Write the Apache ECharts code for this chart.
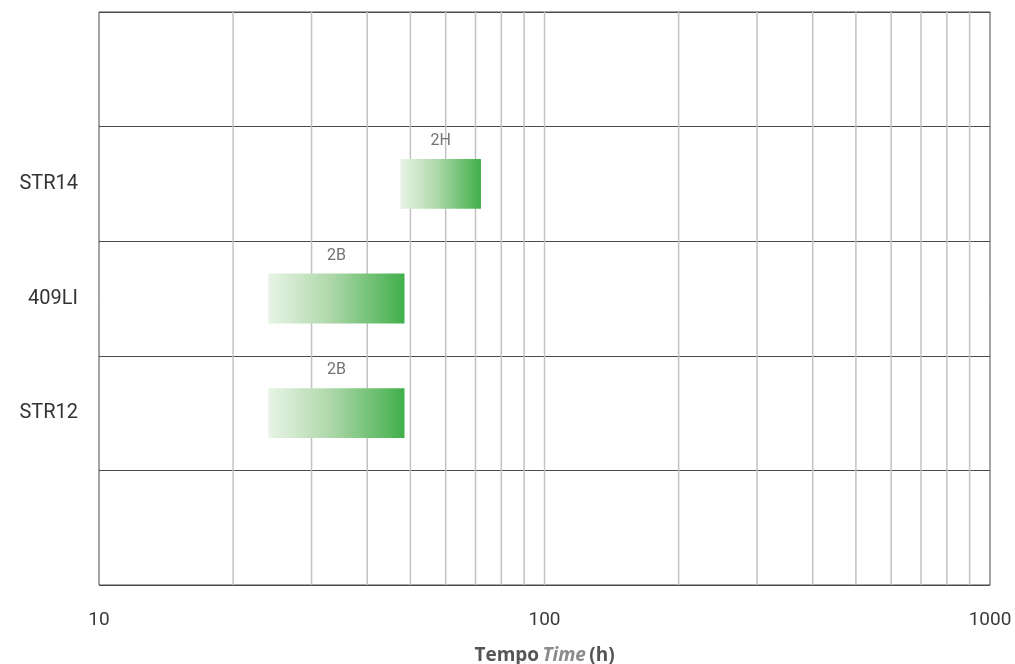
<!DOCTYPE html>
<html>
<head>
<meta charset="utf-8">
<script src="https://cdn.jsdelivr.net/npm/echarts@6/dist/echarts.min.js"></script>
<style>
html,body{margin:0;padding:0;background:#fff;}
#chart{width:1015px;height:664px;}
</style>
</head>
<body>
<div id="chart"></div>
<script>
// Data
const yCategories = ['', 'STR12', '409LI', 'STR14', ''];
const barCategories = ['STR12', '409LI', 'STR14'];
const barStart = [24, 24, 47.5];
const barEnd = [48.5, 48.5, 72];
const barLabels = ['2B', '2B', '2H'];
const minorGridValues = [20, 30, 40, 50, 60, 70, 80, 90, 100, 200, 300, 400, 500, 600, 700, 800, 900];
const xTickLabels = [10, 100, 1000];

const chart = echarts.init(document.getElementById('chart'));

const barData = barCategories.map((c, i) => [barStart[i], barEnd[i], c, barLabels[i]]);
const gridData = minorGridValues.map(v => [v]);

const option = {
  backgroundColor: '#fff',
  animation: false,
  grid: {
    left: 99, right: 25, top: 12, bottom: 79,
    outerBoundsMode: 'none',
    show: true, borderColor: '#4a4a4a', borderWidth: 1, containLabel: false
  },
  xAxis: {
    type: 'log', logBase: 10, min: 10, max: 1000,
    axisLine: { show: false },
    axisTick: { show: false },
    splitLine: { show: false },
    axisLabel: {
      margin: 26, color: '#3a3a3a', fontSize: 19, fontFamily: 'Roboto',
      formatter: v => (xTickLabels.indexOf(Math.round(v)) >= 0 ? String(Math.round(v)) : '')
    },
    name: '{a|Tempo} {b|Time} {a|(h)}',
    nameLocation: 'middle',
    nameGap: 61,
    nameTextStyle: {
      rich: {
        a: { fontFamily: 'Open Sans', fontWeight: 'bold', fontSize: 19, color: '#555' },
        b: { fontFamily: 'Open Sans', fontWeight: 'bold', fontStyle: 'italic', fontSize: 19, color: '#8a8a8a' }
      }
    }
  },
  yAxis: {
    type: 'category', data: yCategories, boundaryGap: true,
    axisLine: { show: false },
    axisTick: { show: false },
    axisLabel: { margin: 21, color: '#333', fontSize: 20, fontFamily: 'Roboto' },
    splitLine: { show: true, interval: 0, lineStyle: { color: '#4a4a4a', width: 1 } }
  },
  series: [
    {
      type: 'custom', z: 1, silent: true,
      encode: { x: 0 },
      data: gridData,
      renderItem: function (params, api) {
        const cs = params.coordSys;
        const x = api.coord([api.value(0), 0])[0];
        return {
          type: 'line',
          shape: { x1: x, y1: cs.y, x2: x, y2: cs.y + cs.height },
          style: { stroke: '#c2c2c2', lineWidth: 1.5 }
        };
      }
    },
    {
      type: 'custom', z: 5,
      encode: { x: [0, 1], y: 2 },
      data: barData,
      renderItem: function (params, api) {
        const y = api.value(2);
        const p0 = api.coord([api.value(0), y]);
        const p1 = api.coord([api.value(1), y]);
        const bandH = api.size([0, 1])[1];
        const h = bandH * 0.435;
        const x0 = p0[0], x1 = p1[0];
        const top = p0[1] - h / 2;
        return {
          type: 'group',
          children: [
            {
              type: 'rect',
              shape: { x: x0, y: top, width: x1 - x0, height: h },
              style: {
                fill: new echarts.graphic.LinearGradient(0, 0, 1, 0, [
                  { offset: 0, color: '#e8f4e6' },
                  { offset: 0.45, color: '#afd8aa' },
                  { offset: 1, color: '#40af4a' }
                ])
              }
            },
            {
              type: 'text',
              style: {
                text: api.value(3),
                x: (x0 + x1) / 2, y: top - 18,
                align: 'center', verticalAlign: 'middle',
                fill: '#737373', fontSize: 16, fontFamily: 'Roboto'
              }
            }
          ]
        };
      }
    }
  ]
};
chart.setOption(option);
</script>
</body>
</html>
